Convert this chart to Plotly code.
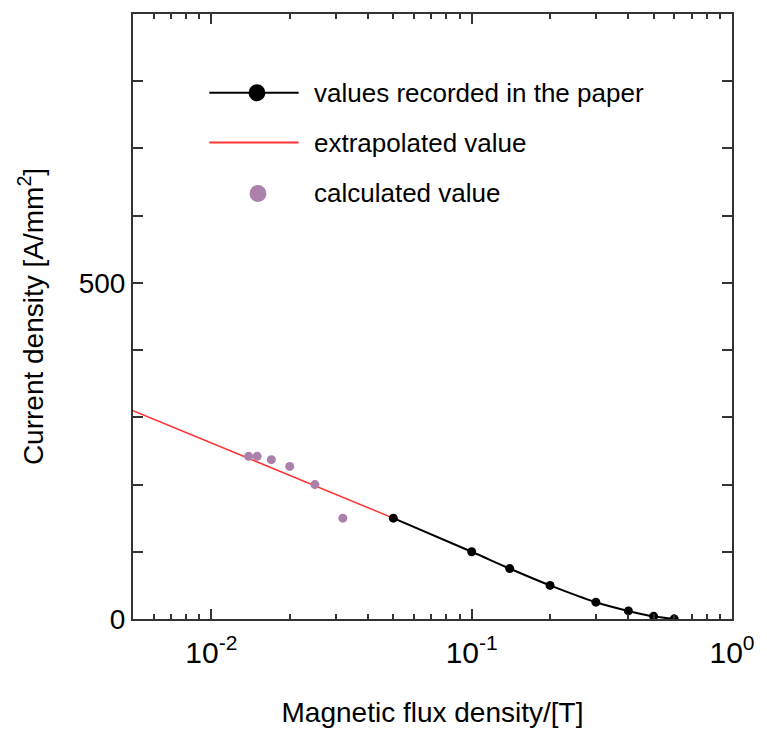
import plotly.graph_objects as go
import numpy as np

# Data
paper_B = [0.05, 0.1, 0.14, 0.2, 0.3, 0.4, 0.5, 0.6]
paper_J = [150, 100, 75, 50, 25, 12, 4, 0]

extrap_B = [0.005, 0.05]
extrap_J = [310, 150]

calc_B = [0.0139, 0.015, 0.017, 0.02, 0.025, 0.032]
calc_J = [242, 242, 237, 227, 200, 150]

x_tickvals = [0.01, 0.1, 1]
x_ticktext = ["10<sup>-2</sup>", "10<sup>-1</sup>", "10<sup>0</sup>"]
y_tickvals = [0, 500]

legend_labels = ["values recorded in the paper", "extrapolated value", "calculated value"]

FONT = "Arial, Liberation Sans, sans-serif"
PURPLE = "#ab80ab"
RED = "#ff3333"

fig = go.Figure()
fig.add_trace(go.Scatter(x=extrap_B, y=extrap_J, mode="lines",
                         line=dict(color=RED, width=1.5), showlegend=False))
fig.add_trace(go.Scatter(x=paper_B, y=paper_J, mode="lines+markers",
                         line=dict(color="black", width=2, shape="spline"),
                         marker=dict(color="black", size=9), showlegend=False))
fig.add_trace(go.Scatter(x=calc_B, y=calc_J, mode="markers",
                         marker=dict(color=PURPLE, size=9), showlegend=False))

# Manual legend (paper coordinates)
L, R, T, B = 133, 737, 13, 620
def px(x):
    return (x - L) / (R - L)
def py(y):
    return (B - y) / (B - T)

rows = [92, 142, 193]
shapes = []
annotations = []
shapes.append(dict(type="line", xref="paper", yref="paper", x0=px(210), x1=px(300),
                   y0=py(rows[0]), y1=py(rows[0]), line=dict(color="black", width=2)))
r = 8.5
shapes.append(dict(type="circle", xref="paper", yref="paper", x0=px(258 - r), x1=px(258 + r),
                   y0=py(rows[0] + r), y1=py(rows[0] - r), fillcolor="black", line=dict(width=0)))
shapes.append(dict(type="line", xref="paper", yref="paper", x0=px(210), x1=px(300),
                   y0=py(rows[1]), y1=py(rows[1]), line=dict(color=RED, width=2)))
shapes.append(dict(type="circle", xref="paper", yref="paper", x0=px(259 - r), x1=px(259 + r),
                   y0=py(rows[2] + r), y1=py(rows[2] - r), fillcolor=PURPLE, line=dict(width=0)))
for lab, yy in zip(legend_labels, rows):
    annotations.append(dict(text=lab, xref="paper", yref="paper", x=px(313), y=py(yy),
                            xanchor="left", yanchor="middle", showarrow=False,
                            font=dict(family=FONT, size=26, color="black")))

fig.update_layout(
    width=767, height=735,
    margin=dict(l=L, r=767 - R, t=T, b=735 - B),
    paper_bgcolor="white", plot_bgcolor="white",
    font=dict(family=FONT, size=28, color="black"),
    shapes=shapes, annotations=annotations,
    showlegend=False,
)
fig.update_xaxes(
    type="log", range=[np.log10(0.005), 0],
    tickvals=x_tickvals, ticktext=x_ticktext,
    showline=True, linecolor="#333333", linewidth=2, mirror="allticks",
    ticks="inside", ticklen=10, tickwidth=1.5, tickcolor="#333333",
    minor=dict(ticks="inside", ticklen=5, tickwidth=1.5, tickcolor="#333333", dtick="D1", showgrid=False),
    showgrid=False, zeroline=False,
    tickfont=dict(size=30), ticklabelstandoff=6,
    title=dict(text="Magnetic flux density/[T]", font=dict(size=28), standoff=34),
)
fig.update_yaxes(
    range=[0, 900], tickvals=y_tickvals,
    showline=True, linecolor="#333333", linewidth=2, mirror="allticks",
    ticks="inside", ticklen=10, tickwidth=1.5, tickcolor="#333333",
    minor=dict(ticks="inside", ticklen=10, tickwidth=1.5, tickcolor="#333333", dtick=100, showgrid=False),
    showgrid=False, zeroline=False,
    tickfont=dict(size=28),
    title=dict(text="Current density [A/mm<sup>2</sup>]", font=dict(size=28), standoff=27),
)

fig.write_html("out.html")
